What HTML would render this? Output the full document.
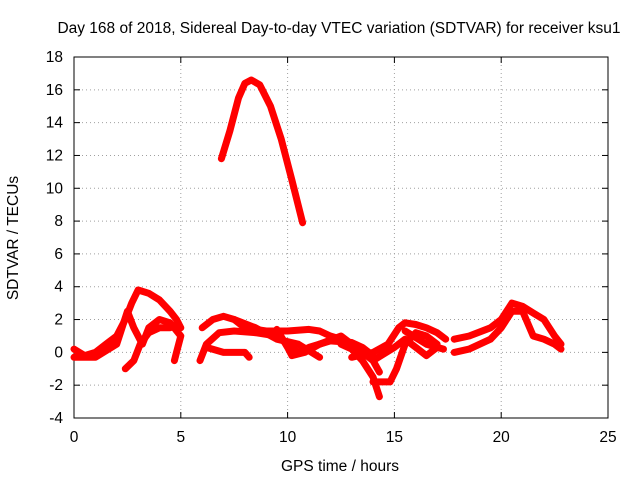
<!DOCTYPE html>
<html><head><meta charset="utf-8"><style>
body{margin:0;background:#fff}
svg text{font-family:"Liberation Sans",sans-serif;font-size:15.5px;fill:#000}
</style></head><body>
<svg width="640" height="480">
<rect x="0" y="0" width="640" height="480" fill="#fff"/>
<g id="grid"></g>
<g id="axes"></g>
<g id="series"></g>
<text x="339" y="33" text-anchor="middle">Day 168 of 2018, Sidereal Day-to-day VTEC variation (SDTVAR) for receiver ksu1</text>
<text x="340" y="471" text-anchor="middle">GPS time / hours</text>
<text transform="translate(18,238) rotate(-90)" text-anchor="middle">SDTVAR / TECUs</text>
</svg>
<script>
const xTicks=[0,5,10,15,20,25];
const yTicks=[-4,-2,0,2,4,6,8,10,12,14,16,18];
const trackArc=[[6.9,11.8],[7.3,13.5],[7.7,15.5],[8.0,16.4],[8.3,16.6],[8.7,16.3],[9.2,15],[9.7,13],[10.2,10.5],[10.7,7.9]];
const track1=[[0,0.2],[0.5,-0.2],[1,0],[1.5,0.5],[2,1],[2.4,2],[2.7,3],[3,3.8],[3.5,3.6],[4,3.2],[4.5,2.5],[4.8,2],[5,1.5]];
const track2=[[0,-0.3],[1,-0.3],[2,0.5],[2.5,2.5],[2.8,1.5],[3.2,0.5],[3.5,1.5],[4,2],[4.5,1.8],[5,1],[4.8,0],[4.7,-0.5]];
const track3=[[2.4,-1],[2.8,-0.5],[3.1,0.5],[3.5,1.2],[4,1.5],[4.5,1.5]];
const track4=[[6,1.5],[6.5,2],[7,2.2],[7.5,2],[8,1.5],[9,1.3],[10,1.3],[11,1.4],[11.5,1.3],[12,1],[12.5,0.8]];
const track5=[[5.9,-0.5],[6.2,0.5],[6.8,1.2],[7.5,1.3],[8.5,1.2],[9.5,1],[10,0.5],[10.5,0],[11,0.3],[12,0.7],[13,0.6],[13.5,0.3],[14,-0.2]];
const track6=[[6.2,0.3],[7,0],[8,0],[8.2,-0.3]];
const track7=[[7.5,2],[8.5,1.5],[9.5,0.8],[10.5,0.5],[11.5,-0.3]];
const track8=[[9.5,1.4],[10,0.3],[10.2,-0.2],[10.8,0],[11.5,0.5],[12.5,1],[13,0.5],[13.5,0],[14,-0.5],[14.3,-1.2]];
const track9=[[12.5,0.5],[13,0.2],[13.5,-0.5],[14,-1.5],[14.3,-2.7]];
const track10=[[13,-0.3],[14,0],[14.7,0.5],[15.2,1.5],[15.5,1.8],[16,1.7],[16.5,1.5],[17,1.2],[17.4,0.8]];
const track11=[[14,-1.8],[14.8,-1.8],[15.1,-1],[15.5,0.5],[16,1.2],[16.5,1],[17,0.5]];
const track12=[[14,-0.5],[15,0.3],[15.5,0.8],[16,0.3],[16.5,-0.2],[17,0.3]];
const track13=[[17.8,0.8],[18.5,1],[19.5,1.5],[20,2],[20.5,3],[21,2.8],[21.5,2.4],[22,2],[22.5,1],[22.8,0.5]];
const track14=[[17.8,0],[18.5,0.2],[19.5,0.8],[20,1.5],[20.5,2.5],[21,2.5],[21.5,1],[22,0.8],[22.5,0.5],[22.8,0.2]];
const track15=[[15.5,1.3],[16.5,0.5],[17.3,0.2]];
const tracks=[trackArc,track1,track2,track3,track4,track5,track6,track7,track8,track9,track10,track11,track12,track13,track14,track15];

const X0=74,X1=608,Y0=418,Y1=57;
const sx=v=>X0+(v-0)/(25-0)*(X1-X0);
const sy=v=>Y0-(v+4)/(18+4)*(Y0-Y1);
const NS="http://www.w3.org/2000/svg";
function mk(t,a,p){const e=document.createElementNS(NS,t);for(const k in a)e.setAttribute(k,a[k]);p.appendChild(e);return e;}
const grid=document.getElementById('grid'),axes=document.getElementById('axes'),ser=document.getElementById('series');
xTicks.forEach(v=>{const x=sx(v);
 if(v>0&&v<25){const l=mk('line',{x1:x,y1:Y0,x2:x,y2:Y1,stroke:'#a0a0a0','stroke-dasharray':'1,3'},grid);}
 mk('line',{x1:x,y1:Y0,x2:x,y2:Y0-6,stroke:'#000'},axes);mk('line',{x1:x,y1:Y1,x2:x,y2:Y1+6,stroke:'#000'},axes);
 const t=mk('text',{x:x,y:Y0+24,'text-anchor':'middle'},axes);t.textContent=v;
 });
yTicks.forEach(v=>{const y=sy(v);
 if(v>-4&&v<18){const l=mk('line',{x1:X0,y1:y,x2:X1,y2:y,stroke:'#a0a0a0','stroke-dasharray':'1,3'},grid);}
 mk('line',{x1:X0,y1:y,x2:X0+6,y2:y,stroke:'#000'},axes);mk('line',{x1:X1,y1:y,x2:X1-6,y2:y,stroke:'#000'},axes);
 const t=mk('text',{x:X0-11,y:y+5,'text-anchor':'end'},axes);t.textContent=v;
 });
const fr=mk('rect',{x:X0,y:Y1,width:X1-X0,height:Y0-Y1,fill:'none',stroke:'#000'},axes);

tracks.forEach(tr=>{const d=tr.map((p,i)=>(i?'L':'M')+sx(p[0]).toFixed(1)+','+sy(p[1]).toFixed(1)).join('');
 const p=mk('path',{d:d,fill:'none',stroke:'#f00','stroke-width':7,'stroke-linejoin':'round','stroke-linecap':'round'},ser);
 });
</script>
</body></html>
